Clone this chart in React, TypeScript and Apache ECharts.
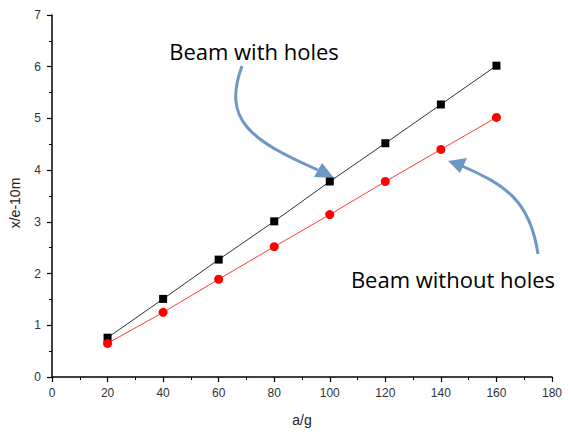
import React, { useEffect, useRef } from "react";
import * as echarts from "echarts";

const xValues = [20, 40, 60, 80, 100, 120, 140, 160];
const withHoles = [0.76, 1.51, 2.27, 3.01, 3.78, 4.52, 5.27, 6.02];
const withoutHoles = [0.65, 1.25, 1.89, 2.52, 3.14, 3.78, 4.4, 5.02];
const xAxisName = "a/g";
const yAxisName = "x/e-10m";
const labelWith = "Beam with holes";
const labelWithout = "Beam without holes";

export default function App() {
  const ref = useRef<HTMLDivElement>(null);
  useEffect(() => {
    document.body.style.margin = "0";
    const chart = echarts.init(ref.current!, null, { renderer: "svg" });
    const arrowColor = "#6c98c3";
    const axisCommon = {
      axisLine: { show: true, lineStyle: { color: "#000", width: 1.5 } },
      axisTick: { show: true, inside: false, length: 5, lineStyle: { color: "#000", width: 1.2 } },
      minorTick: { show: true, splitNumber: 2, length: 3, lineStyle: { color: "#000", width: 1 } },
      splitLine: { show: false },
      axisLabel: { color: "#333", fontSize: 12, fontFamily: "Liberation Sans" },
      nameTextStyle: { color: "#222", fontSize: 14, fontFamily: "Liberation Sans" },
    };
    chart.setOption({
      animation: false,
      grid: { left: 52, right: 19, top: 15, bottom: 54 },
      xAxis: {
        type: "value",
        min: 0,
        max: 180,
        interval: 20,
        name: xAxisName,
        nameLocation: "middle",
        nameGap: 36,
        ...axisCommon,
        axisLabel: { ...axisCommon.axisLabel, margin: 10 },
      },
      yAxis: {
        type: "value",
        min: 0,
        max: 7,
        interval: 1,
        name: yAxisName,
        nameLocation: "middle",
        nameGap: 30,
        ...axisCommon,
        nameTextStyle: { ...axisCommon.nameTextStyle, padding: [0, 0, 0, -14] },
        axisLabel: { ...axisCommon.axisLabel, margin: 11 },
      },
      series: [
        {
          type: "line",
          data: xValues.map((x, i) => [x, withHoles[i]]),
          symbol: "rect",
          symbolSize: 8,
          lineStyle: { color: "#333", width: 1 },
          itemStyle: { color: "#000" },
        },
        {
          type: "line",
          data: xValues.map((x, i) => [x, withoutHoles[i]]),
          symbol: "circle",
          symbolSize: 9,
          lineStyle: { color: "#ff3a3a", width: 1 },
          itemStyle: { color: "#ff0000" },
        },
      ],
      graphic: [
        {
          type: "text",
          x: 254,
          y: 51,
          style: {
            text: labelWith,
            fill: "#000",
            fontSize: 22,
            fontFamily: "Open Sans",
            align: "center",
            verticalAlign: "middle",
          },
        },
        {
          type: "text",
          x: 453,
          y: 279,
          style: {
            text: labelWithout,
            fill: "#000",
            fontSize: 22,
            fontFamily: "Open Sans",
            align: "center",
            verticalAlign: "middle",
          },
        },
        {
          type: "bezierCurve",
          shape: { x1: 242, y1: 66, cpx1: 222, cpy1: 120, cpx2: 250, cpy2: 140, x2: 318, y2: 170 },
          style: { stroke: arrowColor, lineWidth: 3, fill: null },
        },
        {
          type: "polygon",
          shape: { points: [[334, 178], [314, 177], [322, 163]] },
          style: { fill: arrowColor },
        },
        {
          type: "bezierCurve",
          shape: { x1: 538, y1: 254, cpx1: 530, cpy1: 200, cpx2: 505, cpy2: 185, x2: 462, y2: 166 },
          style: { stroke: arrowColor, lineWidth: 3, fill: null },
        },
        {
          type: "polygon",
          shape: { points: [[448, 161], [467, 158], [460, 173]] },
          style: { fill: arrowColor },
        },
      ],
    });
    return () => chart.dispose();
  }, []);
  return <div ref={ref} style={{ width: 571, height: 432 }} />;
}
